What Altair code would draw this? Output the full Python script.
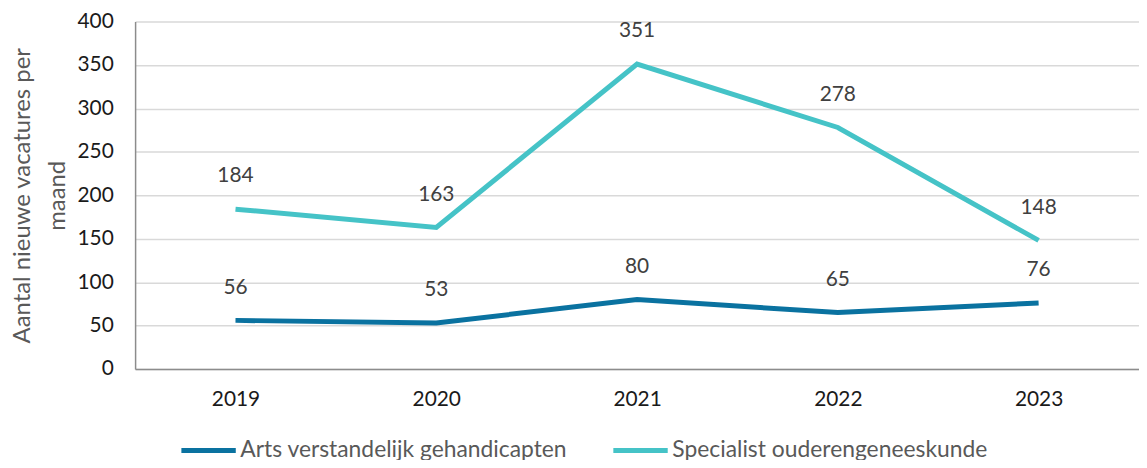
import altair as alt
import pandas as pd

years = ["2019", "2020", "2021", "2022", "2023"]
series_names = ["Arts verstandelijk gehandicapten", "Specialist ouderengeneeskunde"]
arts = [56, 53, 80, 65, 76]
specialist = [184, 163, 351, 278, 148]
colors = ["#0A72A0", "#45C3C7"]

rows = []
for y, a, s in zip(years, arts, specialist):
    rows.append({"jaar": y, "reeks": series_names[0], "waarde": a})
    rows.append({"jaar": y, "reeks": series_names[1], "waarde": s})
df = pd.DataFrame(rows)

FONT = "Lato"

x = alt.X("jaar:N", sort=years, title=None,
          axis=alt.Axis(labelAngle=0, labelFontSize=21, labelColor="#1a1a1a", labelPadding=20,
                        ticks=False, domainColor="#8c8c8c", domainWidth=1.5, grid=False))
y = alt.Y("waarde:Q", scale=alt.Scale(domain=[0, 400]),
          title=["Aantal nieuwe vacatures per", "maand"],
          axis=alt.Axis(values=list(range(0, 401, 50)), labelFontSize=21, labelColor="#1a1a1a",
                        labelPadding=22, ticks=False, domainColor="#8c8c8c", domainWidth=1.5,
                        gridColor="#d9d9d9", gridWidth=1.5, titleFontSize=24, titleColor="#595959",
                        titleFontWeight="normal", titlePadding=8, titleLineHeight=35))
color = alt.Color("reeks:N", scale=alt.Scale(domain=series_names, range=colors), title=None,
                  legend=alt.Legend(orient="none", legendX=44, legendY=402, direction="horizontal",
                                    symbolType="stroke", symbolStrokeWidth=5, symbolSize=3000,
                                    labelFontSize=23, labelColor="#595959", columnPadding=35,
                                    labelOffset=2, labelLimit=500))

lines = alt.Chart(df).mark_line(strokeWidth=5).encode(x=x, y=y, color=color)
labels = alt.Chart(df).mark_text(dy=-33, fontSize=21, color="#404040", baseline="middle").encode(
    x=alt.X("jaar:N", sort=years), y="waarde:Q", text="waarde:Q")

chart = (lines + labels).properties(
    width=1011, height=350,
    autosize=alt.AutoSizeParams(type="none"),
    padding={"left": 128, "top": 12, "right": 0, "bottom": 90},
).configure(font=FONT).configure_view(stroke=None).configure_scale(bandPaddingInner=0, bandPaddingOuter=0)

chart.save("out.html", embed_options={"renderer": "svg", "actions": False})
